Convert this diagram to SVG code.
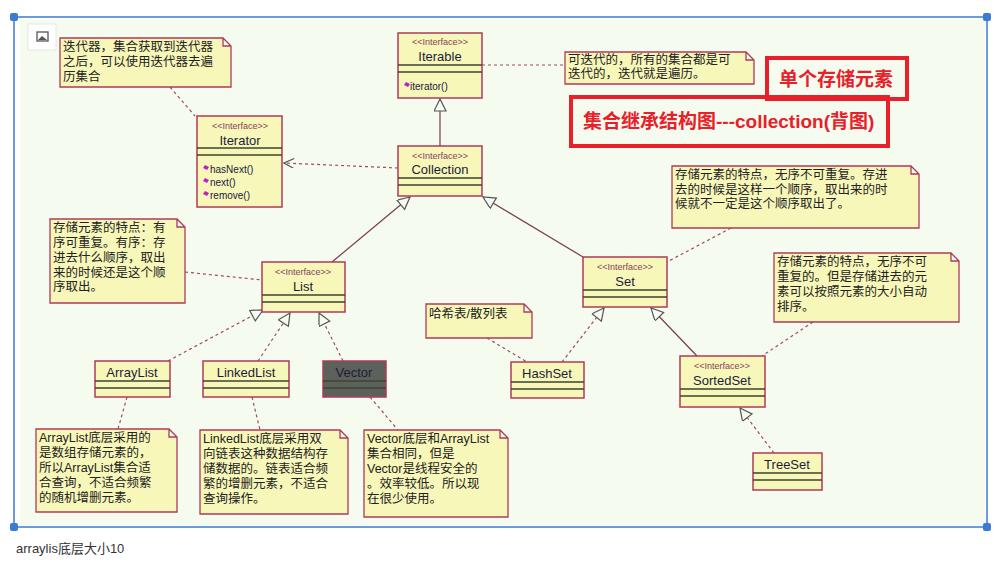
<svg xmlns="http://www.w3.org/2000/svg" width="1006" height="563" viewBox="0 0 1006 563">
<style>
.bx{fill:#f7f7b9;stroke:#b03a5a;stroke-width:1.5}
.dk{fill:#5d615b;stroke:#b03a5a;stroke-width:1.5}
.sep{stroke:#3f4430;stroke-width:1.3}
.nt{fill:#f7f7b9;stroke:#b03a5a;stroke-width:1.3}
.st{font:9px "Liberation Sans",sans-serif;fill:#8a4060;text-anchor:middle}
.nm{font:13px "Liberation Sans",sans-serif;fill:#1c1c3a;text-anchor:middle}
.mt{font:10px "Liberation Sans",sans-serif;fill:#202040}
.tx{font:12.5px "Liberation Sans","Noto Sans CJK SC",sans-serif;fill:#222}
.dash{stroke:#a04a6a;stroke-width:1.2;stroke-dasharray:3,3;fill:none}
.sol{stroke:#7a3a50;stroke-width:1.2;fill:none}
.red{fill:none;stroke:#e8202a;stroke-width:4}
.rt{font:bold 19px "Liberation Sans","Noto Sans CJK SC",sans-serif;fill:#e8202a}
</style>
<defs>
<marker id="tri" markerWidth="14" markerHeight="14" refX="13" refY="6" orient="auto" markerUnits="userSpaceOnUse"><path d="M1,0 L13,6 L1,12 Z" fill="#f8fbf1" stroke="#555" stroke-width="1.2"/></marker>
<marker id="open" markerWidth="12" markerHeight="12" refX="11" refY="5" orient="auto" markerUnits="userSpaceOnUse"><path d="M1,0 L11,5 L1,10" fill="none" stroke="#555" stroke-width="1.2"/></marker>
</defs>
<rect width="1006" height="563" fill="#fff"/>
<rect x="20" y="20" width="965" height="505" fill="#f6fbef"/>
<rect x="14" y="17" width="973" height="510" fill="none" stroke="#3a7bd5" stroke-width="1.5"/>
<g fill="#3a7bd5"><rect x="10" y="13" width="8" height="8" rx="2"/><rect x="983" y="13" width="8" height="8" rx="2"/><rect x="10" y="523" width="8" height="8" rx="2"/><rect x="983" y="523" width="8" height="8" rx="2"/></g>
<rect x="28" y="24" width="28" height="26" fill="#fff" stroke="#e6e6e6"/>
<rect x="37" y="32" width="11" height="9" fill="none" stroke="#555" stroke-width="1.3"/>
<path d="M38,40 L42,36 L47,40 Z" fill="#555"/>

<g id="connectors">
<path class="dash" d="M170,87 L195,116"/>
<path class="dash" d="M398,168 L284,163" marker-end="url(#open)"/>
<path class="sol" d="M440,146 L440,99" marker-end="url(#tri)"/>
<path class="dash" d="M482,65 L565,65"/>
<path class="sol" d="M332,262 L410,197" marker-end="url(#tri)"/>
<path class="sol" d="M583,257 L483,197" marker-end="url(#tri)"/>
<path class="dash" d="M185,272 L262,280"/>
<path class="dash" d="M731,228 L667,262"/>
<path class="dash" d="M168,361 L263,310" marker-end="url(#tri)"/>
<path class="dash" d="M258,361 L290,313" marker-end="url(#tri)"/>
<path class="dash" d="M343,361 L319,313" marker-end="url(#tri)"/>
<path class="dash" d="M127,397 L118,429"/>
<path class="dash" d="M252,397 L260,430"/>
<path class="dash" d="M370,397 L398,430"/>
<path class="dash" d="M487,338 L527,362"/>
<path class="dash" d="M562,362 L604,308" marker-end="url(#tri)"/>
<path class="sol" d="M697,356 L651,308" marker-end="url(#tri)"/>
<path class="dash" d="M813,322 L762,356"/>
<path class="dash" d="M774,453 L740,408" marker-end="url(#tri)"/>
</g>

<g id="note-iterator"><path class="nt" d="M60,38 H223 L231,46 V87 H60 Z M223,38 V46 H231"/>
<text class="tx"><tspan x="63" y="51">迭代器，集合获取到迭代器</tspan><tspan x="63" y="66">之后，可以使用迭代器去遍</tspan><tspan x="63" y="81">历集合</tspan></text></g>

<g id="iterable"><rect class="bx" x="398" y="33" width="84" height="65"/><path class="sep" d="M398,65 H482 M398,72 H482"/>
<text class="st" x="440" y="45">&lt;&lt;Interface&gt;&gt;</text><text class="nm" x="440" y="61">Iterable</text>
<path d="M406,82 l4,2 -2,3 -4,-2z" fill="#c020c0"/><text class="mt" x="410" y="90">iterator()</text></g>

<g id="iterator"><rect class="bx" x="197" y="116" width="85" height="91"/><path class="sep" d="M197,148 H282 M197,155 H282"/>
<text class="st" x="240" y="129">&lt;&lt;Interface&gt;&gt;</text><text class="nm" x="240" y="145">Iterator</text>
<g fill="#c020c0"><path d="M205,165 l4,2 -2,3 -4,-2z"/><path d="M205,178 l4,2 -2,3 -4,-2z"/><path d="M205,191 l4,2 -2,3 -4,-2z"/></g>
<text class="mt"><tspan x="210" y="173">hasNext()</tspan><tspan x="210" y="186">next()</tspan><tspan x="210" y="199">remove()</tspan></text></g>

<g id="collection"><rect class="bx" x="398" y="146" width="84" height="50"/><path class="sep" d="M398,178 H482 M398,185 H482"/>
<text class="st" x="440" y="159">&lt;&lt;Interface&gt;&gt;</text><text class="nm" x="440" y="174">Collection</text></g>

<g id="note-iterable"><path class="nt" d="M565,52 H746 L754,60 V84 H565 Z M746,52 V60 H754"/>
<text class="tx"><tspan x="568" y="64">可迭代的，所有的集合都是可</tspan><tspan x="568" y="78">迭代的，迭代就是遍历。</tspan></text></g>

<g id="title1"><rect class="red" x="767" y="58" width="140" height="41"/><text class="rt" x="779" y="86">单个存储元素</text></g>
<g id="title2"><rect class="red" x="571" y="97" width="317" height="49"/><text class="rt" x="583" y="128">集合继承结构图---collection(背图)</text></g>

<g id="note-list"><path class="nt" d="M50,219 H177 L185,227 V303 H50 Z M177,219 V227 H185"/>
<text class="tx"><tspan x="53" y="232">存储元素的特点：有</tspan><tspan x="53" y="247">序可重复。有序：存</tspan><tspan x="53" y="262">进去什么顺序，取出</tspan><tspan x="53" y="277">来的时候还是这个顺</tspan><tspan x="53" y="291">序取出。</tspan></text></g>

<g id="list"><rect class="bx" x="262" y="262" width="83" height="50"/><path class="sep" d="M262,295 H345 M262,302 H345"/>
<text class="st" x="303" y="275">&lt;&lt;Interface&gt;&gt;</text><text class="nm" x="303" y="291">List</text></g>

<g id="note-set"><path class="nt" d="M672,166 H911 L919,174 V228 H672 Z M911,166 V174 H919"/>
<text class="tx"><tspan x="675" y="179">存储元素的特点，无序不可重复。存进</tspan><tspan x="675" y="194">去的时候是这样一个顺序，取出来的时</tspan><tspan x="675" y="208">候就不一定是这个顺序取出了。</tspan></text></g>

<g id="set"><rect class="bx" x="583" y="257" width="84" height="50"/><path class="sep" d="M583,290 H667 M583,297 H667"/>
<text class="st" x="625" y="270">&lt;&lt;Interface&gt;&gt;</text><text class="nm" x="625" y="286">Set</text></g>

<g id="note-sortedset"><path class="nt" d="M774,253 H951 L959,261 V322 H774 Z M951,253 V261 H959"/>
<text class="tx"><tspan x="777" y="266">存储元素的特点，无序不可</tspan><tspan x="777" y="281">重复的。但是存储进去的元</tspan><tspan x="777" y="296">素可以按照元素的大小自动</tspan><tspan x="777" y="311">排序。</tspan></text></g>

<g id="note-hashset"><path class="nt" d="M426,304 H524 L532,312 V338 H426 Z M524,304 V312 H532"/>
<text class="tx" x="429" y="318">哈希表/散列表</text></g>

<g id="arraylist"><rect class="bx" x="95" y="361" width="75" height="36"/><path class="sep" d="M95,381 H170 M95,388 H170"/><text class="nm" x="132" y="377">ArrayList</text></g>
<g id="linkedlist"><rect class="bx" x="203" y="361" width="86" height="36"/><path class="sep" d="M203,381 H289 M203,388 H289"/><text class="nm" x="246" y="377">LinkedList</text></g>
<g id="vector"><rect class="dk" x="323" y="361" width="63" height="36"/><path class="sep" d="M323,381 H386 M323,388 H386"/><text class="nm" x="354" y="377">Vector</text></g>
<g id="hashset"><rect class="bx" x="511" y="362" width="73" height="36"/><path class="sep" d="M511,382 H584 M511,389 H584"/><text class="nm" x="547" y="378">HashSet</text></g>
<g id="sortedset"><rect class="bx" x="680" y="356" width="85" height="51"/><path class="sep" d="M680,389 H765 M680,396 H765"/>
<text class="st" x="722" y="369">&lt;&lt;Interface&gt;&gt;</text><text class="nm" x="722" y="385">SortedSet</text></g>
<g id="treeset"><rect class="bx" x="753" y="453" width="69" height="37"/><path class="sep" d="M753,473 H822 M753,480 H822"/><text class="nm" x="787" y="469">TreeSet</text></g>

<g id="note-arraylist"><path class="nt" d="M36,429 H169 L177,437 V512 H36 Z M169,429 V437 H177"/>
<text class="tx"><tspan x="39" y="442">ArrayList底层采用的</tspan><tspan x="39" y="457">是数组存储元素的，</tspan><tspan x="39" y="472">所以ArrayList集合适</tspan><tspan x="39" y="487">合查询，不适合频繁</tspan><tspan x="39" y="502">的随机增删元素。</tspan></text></g>
<g id="note-linkedlist"><path class="nt" d="M200,430 H340 L348,438 V514 H200 Z M340,430 V438 H348"/>
<text class="tx"><tspan x="203" y="443">LinkedList底层采用双</tspan><tspan x="203" y="458">向链表这种数据结构存</tspan><tspan x="203" y="473">储数据的。链表适合频</tspan><tspan x="203" y="488">繁的增删元素，不适合</tspan><tspan x="203" y="503">查询操作。</tspan></text></g>
<g id="note-vector"><path class="nt" d="M364,430 H500 L508,438 V517 H364 Z M500,430 V438 H508"/>
<text class="tx"><tspan x="367" y="443">Vector底层和ArrayList</tspan><tspan x="367" y="458">集合相同，但是</tspan><tspan x="367" y="473">Vector是线程安全的</tspan><tspan x="367" y="488">。效率较低。所以现</tspan><tspan x="367" y="503">在很少使用。</tspan></text></g>

<text x="16" y="553" style="font:13px 'Liberation Sans','Noto Sans CJK SC',sans-serif;fill:#333">arraylis底层大小10</text>
</svg>
